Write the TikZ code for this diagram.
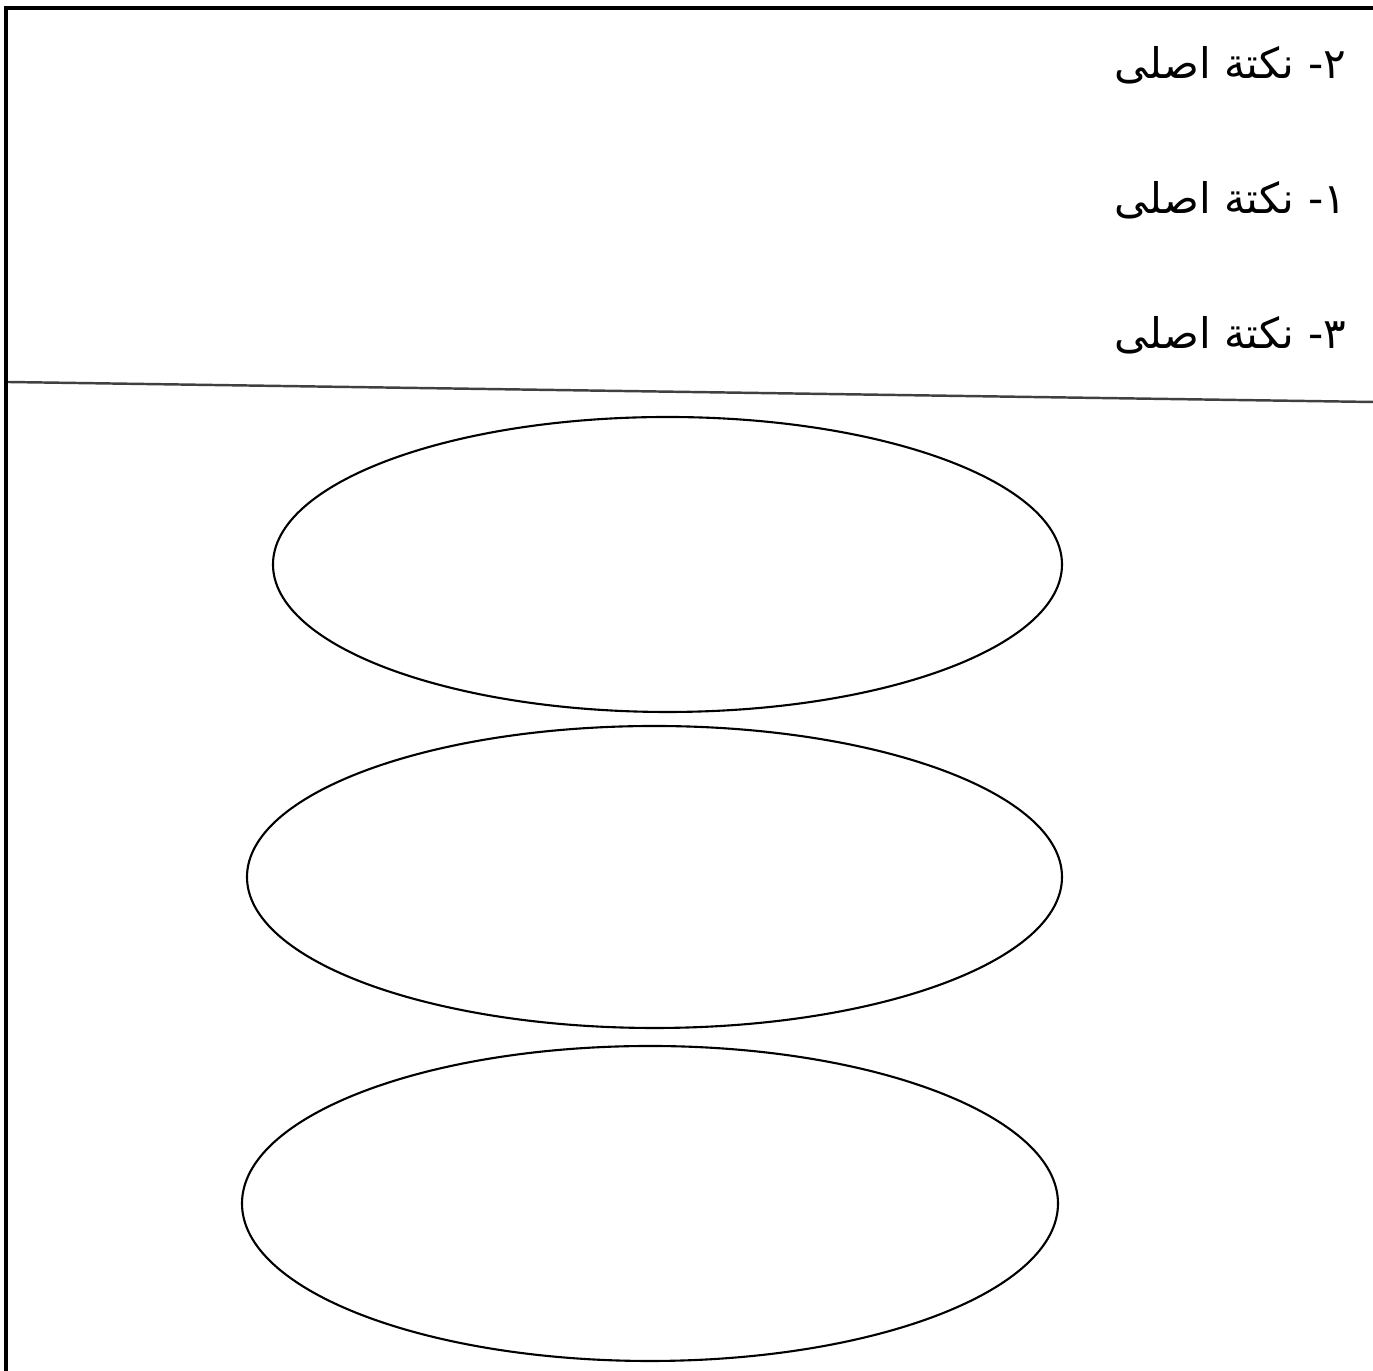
\documentclass[tikz,border=0pt]{standalone}
\usepackage{fontspec}
\newfontfamily\arabicfont[Script=Arabic]{DejaVu Sans}
\TeXXeTstate=1
\usetikzlibrary{shapes.geometric}

\begin{document}
\begin{tikzpicture}[line width=0.6pt]
        \useasboundingbox (0,0) rectangle (13.73,13.71);
        \coordinate (bl) at (0.06,0);
        \coordinate (tl) at (0.06,13.63);
        \coordinate (tr) at (13.73,13.63);
        \coordinate (dl) at (0.08,9.89);
        \coordinate (dr) at (13.73,9.69);
        \draw[line width=0.9pt] (bl) -- (tl) -- (tr);
        \draw[line width=0.7pt,black!75] (dl) -- (dr);
        \node[anchor=east,inner sep=0pt,font=\arabicfont\fontsize{12}{14}\selectfont] (point2) at (13.47,13.06) {\beginR ۲- نکتة اصلی\endR};
        \node[anchor=east,inner sep=0pt,font=\arabicfont\fontsize{12}{14}\selectfont] (point1) at (13.47,11.71) {\beginR ۱- نکتة اصلی\endR};
        \node[anchor=east,inner sep=0pt,font=\arabicfont\fontsize{12}{14}\selectfont] (point3) at (13.47,10.36) {\beginR ۳- نکتة اصلی\endR};
        \node[draw,ellipse,inner sep=0pt,minimum width=7.89cm,minimum height=2.95cm] (top) at (6.675,8.065) {};
        \node[draw,ellipse,inner sep=0pt,minimum width=8.15cm,minimum height=3.02cm] (middle) at (6.545,4.94) {};
        \node[draw,ellipse,inner sep=0pt,minimum width=8.16cm,minimum height=3.15cm] (bottom) at (6.50,1.675) {};
    \end{tikzpicture}
\end{document}
